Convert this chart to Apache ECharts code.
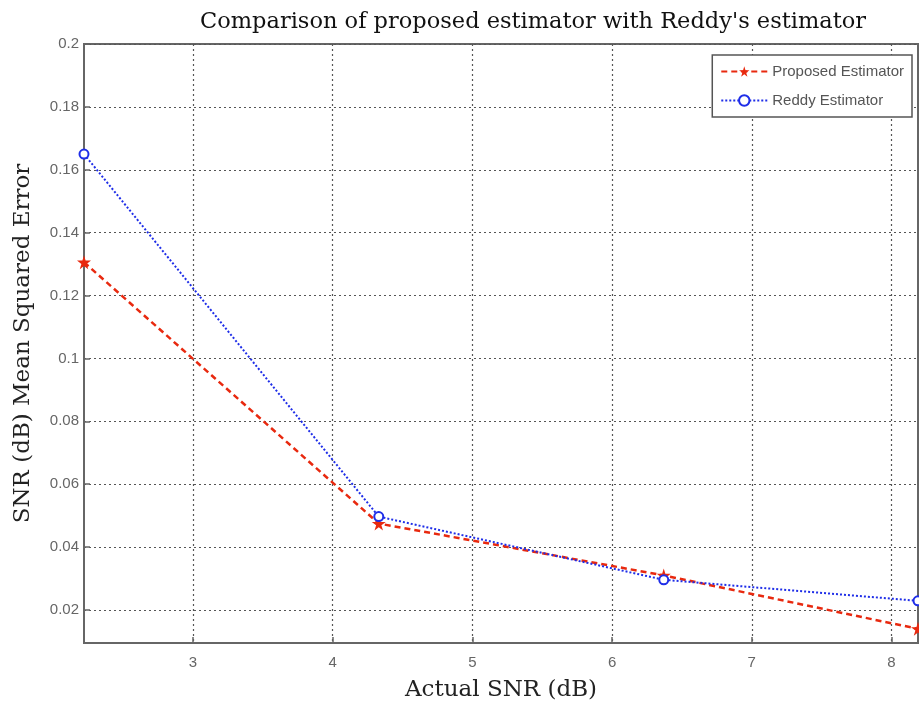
<!DOCTYPE html>
<html>
<head>
<meta charset="utf-8">
<script src="https://cdn.jsdelivr.net/npm/echarts@6/dist/echarts.min.js"></script>
<style>
  html, body { margin: 0; padding: 0; background: #fff; }
  #chart { width: 919px; height: 708px; }
</style>
</head>
<body>
<div id="chart"></div>
<script>
// 数据
var snrX = [2.22, 4.33, 6.37, 8.19];
var proposedMse = [0.1306, 0.0475, 0.0310, 0.0140];
var reddyMse = [0.1650, 0.0497, 0.0296, 0.0229];
var xTicks = [3, 4, 5, 6, 7, 8];
var yTicks = [0.02, 0.04, 0.06, 0.08, 0.1, 0.12, 0.14, 0.16, 0.18, 0.2];

function pairs(xs, ys) {
    return xs.map(function (x, i) { return [x, ys[i]]; });
}

var starPath = 'path://M50,0 L61,35 L98,35 L68,57 L79,91 L50,70 L21,91 L32,57 L2,35 L39,35 Z';

var chart = echarts.init(document.getElementById('chart'));
var serif = '"DejaVu Serif", "Liberation Serif", serif';
var sans = '"Liberation Sans", Arial, sans-serif';

var option = {
    animation: false,
    backgroundColor: '#fff',
    title: {
        text: "Comparison of proposed estimator with Reddy's estimator",
        left: 528, top: 6, textAlign: 'center',
        textStyle: { fontFamily: serif, fontWeight: 'normal', fontSize: 22.5, color: '#111' }
    },
    legend: {
        right: 7, top: 55, orient: 'vertical', itemGap: 14,
        padding: [9, 8, 9, 8],
        backgroundColor: '#fff', borderColor: '#555', borderWidth: 1.5,
        itemWidth: 46, itemHeight: 13,
        textStyle: { fontFamily: sans, fontSize: 15, color: '#555' },
        data: ['Proposed Estimator', 'Reddy Estimator']
    },
    grid: {
        left: 84, right: 1, top: 44, bottom: 65,
        outerBoundsMode: 'none',
        show: true, borderColor: '#666', borderWidth: 2, backgroundColor: '#fff'
    },
    xAxis: {
        type: 'value', min: 2.22, max: 8.19,
        name: 'Actual SNR (dB)', nameLocation: 'middle', nameGap: 36,
        nameTextStyle: { fontFamily: serif, fontSize: 23, color: '#222' },
        axisLine: { show: true, lineStyle: { color: '#666', width: 2 } },
        axisTick: { show: true, inside: true, length: 6, customValues: xTicks, lineStyle: { color: '#666', width: 1.5 } },
        axisLabel: { customValues: xTicks, fontFamily: sans, fontSize: 15, color: '#666', margin: 12 },
        splitLine: { show: true, lineStyle: { color: '#555', type: [2, 3], width: 1.2 } }
    },
    yAxis: {
        type: 'value', min: 0.0095, max: 0.2,
        name: 'SNR (dB) Mean Squared Error', nameLocation: 'middle', nameGap: 49,
        nameTextStyle: { fontFamily: serif, fontSize: 23, color: '#222' },
        axisLine: { show: true, lineStyle: { color: '#666', width: 2 } },
        axisTick: { show: true, inside: true, length: 6, customValues: yTicks, lineStyle: { color: '#666', width: 1.5 } },
        axisLabel: { customValues: yTicks, fontFamily: sans, fontSize: 15, color: '#666', margin: 5 },
        splitLine: { show: true, lineStyle: { color: '#555', type: [2, 3], width: 1.2 } }
    },
    series: [
        {
            name: 'Proposed Estimator', type: 'line',
            data: pairs(snrX, proposedMse),
            symbol: starPath, symbolSize: 14, showAllSymbol: true,
            itemStyle: { color: '#e8290f' },
            lineStyle: { color: '#e8290f', width: 2.5, type: [6, 4] },
            z: 3
        },
        {
            name: 'Reddy Estimator', type: 'line',
            data: pairs(snrX, reddyMse),
            symbol: 'emptyCircle', symbolSize: 9, showAllSymbol: true,
            itemStyle: { color: '#1f2ee8', borderWidth: 2 },
            lineStyle: { color: '#1f2ee8', width: 2, type: [2, 2] },
            z: 4
        }
    ]
};

chart.setOption(option);
</script>
</body>
</html>
